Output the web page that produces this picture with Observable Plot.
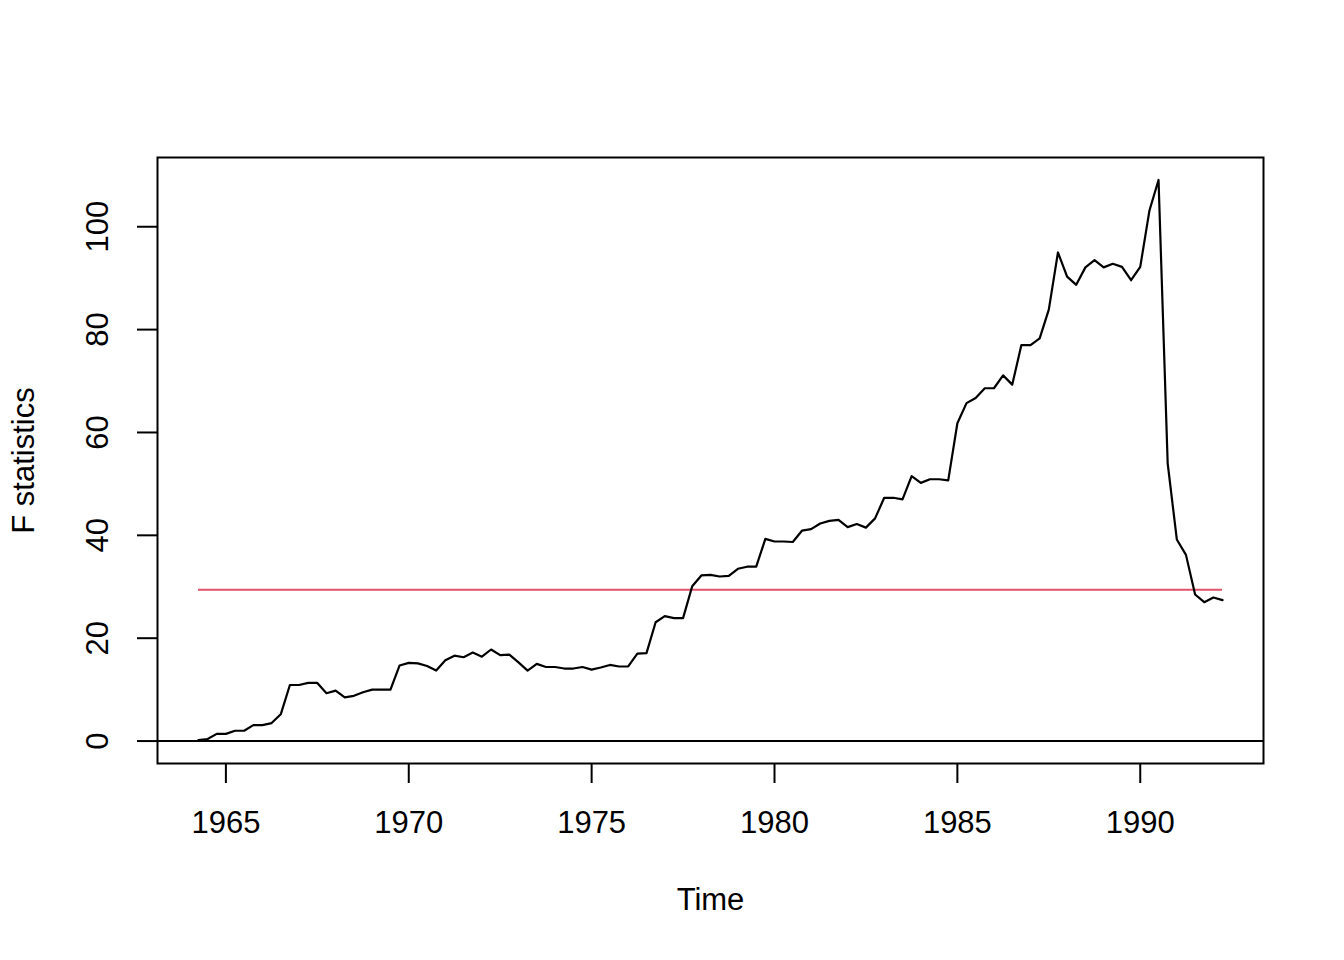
<!DOCTYPE html>
<html>
<head>
<meta charset="utf-8">
<script src="https://cdn.jsdelivr.net/npm/d3@7"></script>
<script src="https://cdn.jsdelivr.net/npm/@observablehq/plot@0.6"></script>
<style>
  html, body { margin: 0; padding: 0; background: white; overflow: hidden; }
</style>
</head>
<body>
<div id="chart"></div>
<script>
// Quarterly time series of F statistics (start 1964 Q2, frequency 4)
const tsStart = 1964.25;
const tsFrequency = 4;
const fValues = [
  0.2, 0.4, 1.4, 1.4, 2.0, 2.0, 3.1, 3.1, 3.5, 5.2,
  10.9, 10.9, 11.3, 11.3, 9.3, 9.8, 8.5, 8.8, 9.5, 10.0,
  10.0, 10.0, 14.7, 15.2, 15.1, 14.6, 13.7, 15.7, 16.6, 16.3,
  17.2, 16.4, 17.8, 16.7, 16.8, 15.3, 13.7, 15.0, 14.4, 14.4,
  14.1, 14.1, 14.4, 13.9, 14.3, 14.8, 14.5, 14.5, 17.0, 17.1,
  23.1, 24.3, 23.9, 23.9, 30.1, 32.2, 32.3, 32.0, 32.1, 33.5,
  33.9, 33.9, 39.3, 38.8, 38.8, 38.7, 40.9, 41.2, 42.3, 42.8,
  43.0, 41.6, 42.2, 41.5, 43.3, 47.3, 47.3, 47.0, 51.5, 50.2,
  50.9, 50.9, 50.7, 61.8, 65.7, 66.7, 68.6, 68.6, 71.1, 69.3,
  77.0, 77.0, 78.3, 83.9, 95.0, 90.3, 88.7, 92.1, 93.5, 92.1,
  92.8, 92.2, 89.6, 92.2, 103.1, 109.1, 54.0, 39.2, 36.2, 28.5,
  27.0, 27.9, 27.4
];
const boundaryValue = 29.4;
const xTicks = [1965, 1970, 1975, 1980, 1985, 1990];
const yTicks = [0, 20, 40, 60, 80, 100];
const xLabel = "Time";
const yLabel = "F statistics";

const series = fValues.map((v, i) => ({time: tsStart + i / tsFrequency, value: v}));
const tFirst = series[0].time;
const tLast = series[series.length - 1].time;

// R-style 4% axis extension
const xr = tLast - tFirst;
const yMin = Math.min(0, d3.min(fValues)), yMax = d3.max(fValues);
const yr = yMax - yMin;
const xDomain = [tFirst - 0.04 * xr, tLast + 0.04 * xr];
const yDomain = [yMin - 0.04 * yr, yMax + 0.04 * yr];

const font = "'Liberation Sans', Arial, Helvetica, sans-serif";
const fs = 31;

const chart = Plot.plot({
  width: 1344,
  height: 960,
  marginLeft: 157,
  marginRight: 81,
  marginTop: 157,
  marginBottom: 197,
  style: {fontFamily: font, fontSize: fs + "px", background: "white", color: "black"},
  x: {domain: xDomain, range: [157, 1263]},
  y: {domain: yDomain, range: [763, 157]},
  marks: [
    Plot.ruleY([0], {stroke: "black", strokeWidth: 2}),
    Plot.ruleY([boundaryValue], {x1: tFirst, x2: tLast, stroke: "#DF536B", strokeWidth: 2}),
    Plot.line(series, {x: "time", y: "value", stroke: "black", strokeWidth: 2.2, strokeLinejoin: "round"}),
    Plot.frame({stroke: "black", strokeWidth: 2}),
    Plot.axisX({ticks: xTicks, tickSize: 20, tickPadding: 27, tickFormat: d => String(d), fontSize: fs, label: null, strokeWidth: 2}),
    Plot.axisY({ticks: yTicks, tickSize: 20, tickFormat: d => String(d), label: null, strokeWidth: 2, text: null}),
    Plot.text(yTicks, {y: d => d, frameAnchor: "left", dx: -59, rotate: -90, text: d => String(d), fontSize: fs, textAnchor: "middle", lineAnchor: "middle", fill: "black"}),
    Plot.text([xLabel], {frameAnchor: "bottom", dy: 137, text: d => d, fontSize: fs, textAnchor: "middle", lineAnchor: "middle", fill: "black"}),
    Plot.text([yLabel], {frameAnchor: "left", dx: -133, rotate: -90, text: d => d, fontSize: fs, textAnchor: "middle", lineAnchor: "middle", fill: "black"})
  ]
});
document.getElementById("chart").appendChild(chart);
</script>
</body>
</html>
